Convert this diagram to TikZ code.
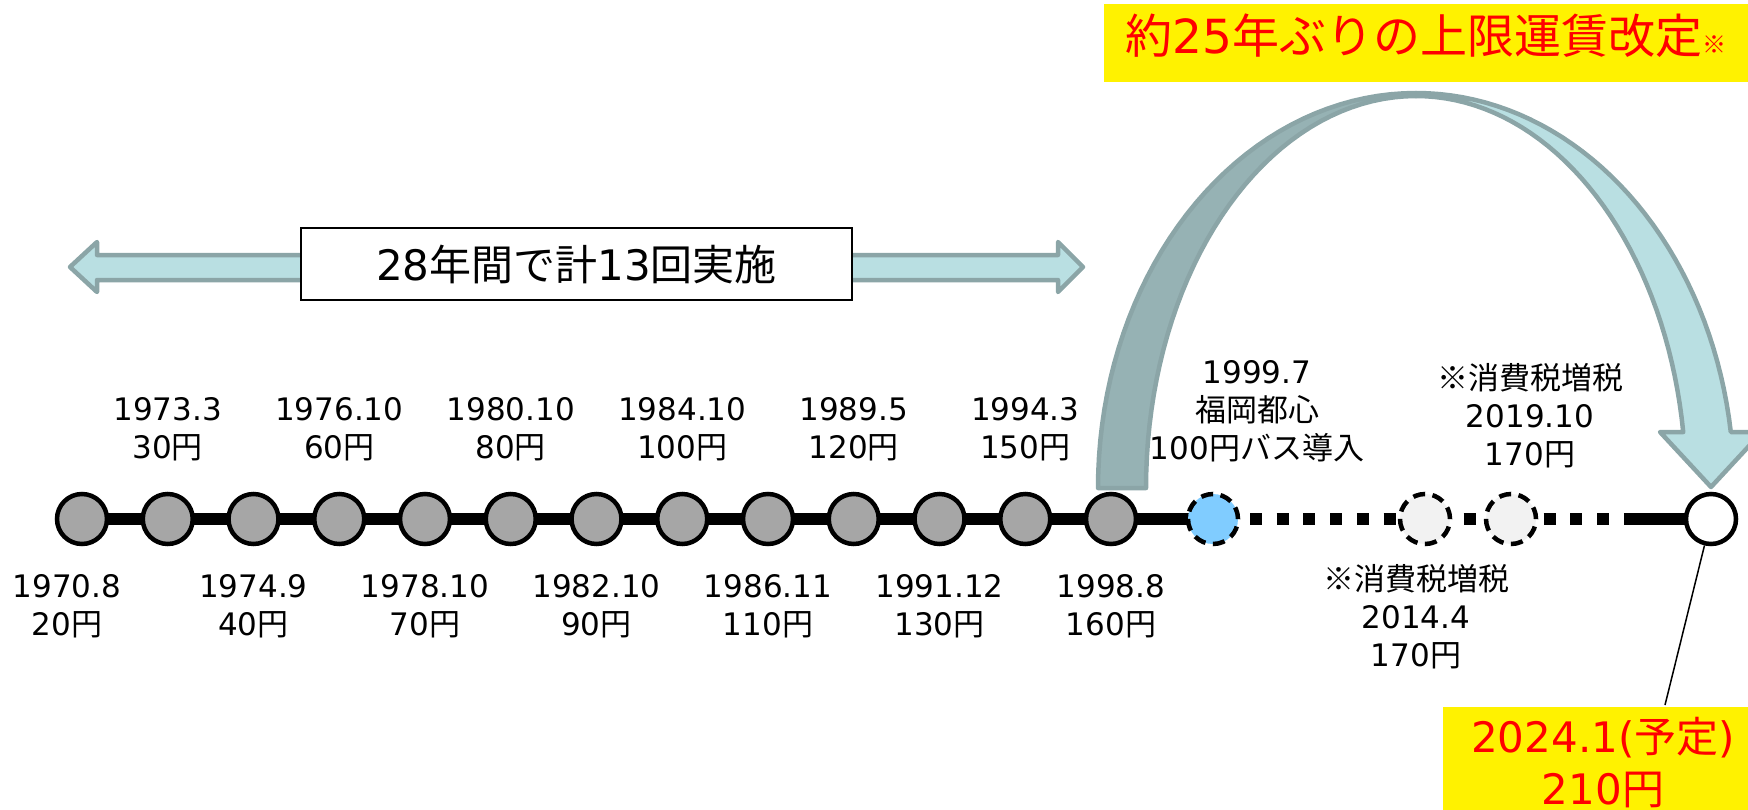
\documentclass[tikz,border=0pt]{standalone}
\usepackage{fontspec}
\setmainfont{DejaVu Sans}
\newfontfamily\jp{Noto Sans CJK JP}
\usetikzlibrary{backgrounds}
\newcommand\jpy{{\jp 円}}
\definecolor{stopgray}{HTML}{A6A6A6}
\definecolor{stopblue}{HTML}{80CCFF}
\definecolor{stoplight}{HTML}{F2F2F2}
\definecolor{arrowfill}{HTML}{B9DFE2}
\definecolor{arrowdark}{HTML}{96B2B4}
\definecolor{arrowline}{HTML}{8BA5A7}
\begin{document}
\begin{tikzpicture}
  [x=1pt,y=-1pt,
  every node/.style={font=\fontsize{31}{38}\selectfont},
  stop/.style={circle,draw,line width=4.5pt,minimum size=50pt,inner sep=0pt},
  past/.style={stop,fill=stopgray},
  plan/.style={stop,dash pattern=on 12pt off 7.6pt},
  yearlbl/.style={align=center,inner sep=0pt},
  rail/.style={line width=12pt},
  dotrail/.style={rail,dash pattern=on 12pt off 14.7pt,dash phase=16.4pt},
  band/.style={draw=arrowline,line width=4.5pt,line join=round},
  hilite/.style={fill=yellow,text=red,inner sep=0pt}]
\useasboundingbox (0,0) rectangle (1748,809);

\draw[band,fill=arrowfill] (70,267) -- (97,242) -- (97,255) -- (1058,255) -- (1058,242)
  -- (1083,267) -- (1058,292) -- (1058,280) -- (97,280) -- (97,292) -- cycle;
\draw[band,fill=arrowfill] (1416,93)
  -- plot[domain=90:8.15,samples=40] ({1416+318*cos(\x)},{488-395*sin(\x)})
  -- (1762,432) -- (1711,487) -- (1660,432)
  -- plot[domain=8.2:90,samples=40] ({1416+270*cos(\x)},{488-392*sin(\x)}) -- cycle;
\draw[band,fill=arrowdark]
  plot[domain=180:90,samples=40] ({1416+318*cos(\x)},{488-395*sin(\x)})
  -- plot[domain=90:180,samples=40] ({1416+270*cos(\x)},{488-392*sin(\x)}) -- cycle;

\foreach \n [count=\i from 0] in {1970,1973,1974,1976,1978,1980,1982,1984,1986,1989,1991,1994,1998}
  \node[past] (y\n) at ({82+85.75*\i},519) {};
\node[plan,fill=stopblue] (c1999) at (1213,519) {};
\node[plan,fill=stoplight] (c2014) at (1425,519) {};
\node[plan,fill=stoplight] (c2019) at (1511,519) {};
\node[stop,fill=white] (c2024) at (1711,519) {};
\coordinate (railend) at (1624,519);

\begin{scope}[on background layer]
  \draw[rail] (y1970.center) -- (c1999.center);
  \draw[dotrail] (c1999.center) -- (railend);
  \draw[rail] (railend) -- (c2024.center);
\end{scope}

\node[yearlbl] (l1970) at (67,606) {1970.8\\20\jpy};
\foreach \n/\yr/\fare/\ypos in {1973/1973.3/30/429, 1974/1974.9/40/606, 1976/1976.10/60/429,
    1978/1978.10/70/606, 1980/1980.10/80/429, 1982/1982.10/90/606, 1984/1984.10/100/429,
    1986/1986.11/110/606, 1989/1989.5/120/429, 1991/1991.12/130/606, 1994/1994.3/150/429,
    1998/1998.8/160/606}
  \node[yearlbl] (l\n) at (y\n |- 0,\ypos) {\yr\\\fare\jpy};
\node[yearlbl] (l1999) at (1257,411) {1999.7\\{\jp 福岡都心}\\100\jpy{\jp バス導入}};
\node[yearlbl] (l2014) at (1416,617) {{\jp ※消費税増税}\\2014.4\\170\jpy};
\node[yearlbl] (l2019) at (1530,416) {{\jp ※消費税増税}\\2019.10\\170\jpy};

\node[draw,line width=1.5pt,fill=white,minimum width=551pt,minimum height=72pt,
  font=\fontsize{42}{52}\selectfont] (span) at (576.5,264) {28{\jp 年間で計}13{\jp 回実施}};

\node[hilite,minimum width=644pt,minimum height=78pt,text height=41pt,text depth=20pt,
  font=\fontsize{47}{52}\selectfont] (title) at (1426,43)
  {{\jp 約}25{\jp 年ぶりの上限運賃改定}{\jp\fontsize{24}{24}\selectfont ※}};

\node[hilite,minimum width=320pt,minimum height=112pt,align=center,
  font=\fontsize{42}{52}\selectfont] (fare2024) at (1603,763) {2024.1({\jp 予定})\\210\jpy};
\coordinate (callout) at (1665,705);
\draw[line width=1.5pt] (c2024) -- (callout);
\end{tikzpicture}
\end{document}
